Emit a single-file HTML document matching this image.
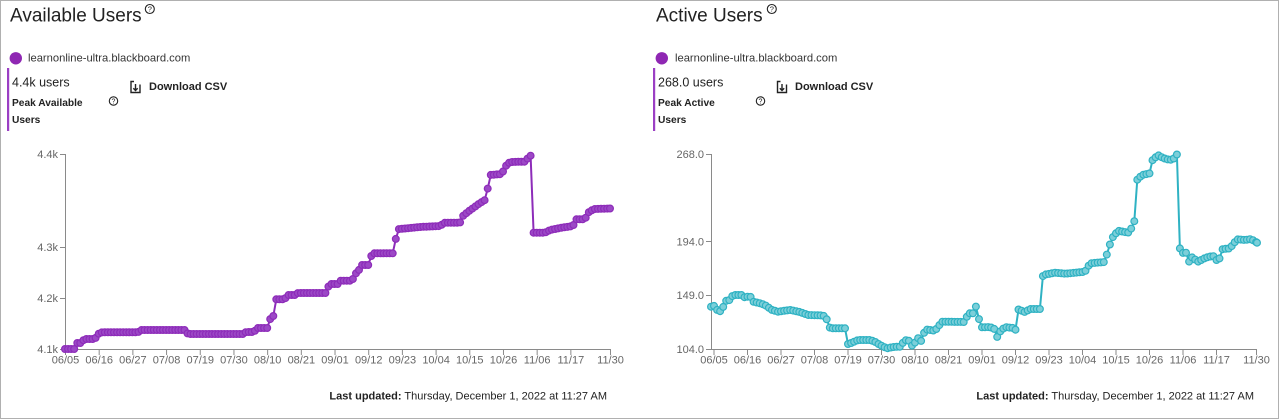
<!DOCTYPE html>
<html><head><meta charset="utf-8"><style>
html,body{margin:0;padding:0;background:#fff;}
svg{display:block;font-family:"Liberation Sans",Arial,sans-serif;}
</style></head><body>
<svg id="s" width="1280" height="420" viewBox="0 0 1280 420" xmlns="http://www.w3.org/2000/svg">
<rect x="0.5" y="0.5" width="1278" height="418" fill="#fff" stroke="#b0b0b0" stroke-width="1"/>

<!-- LEFT HEADER -->
<text x="10" y="21.5" font-size="19" fill="#222">Available Users</text>
<g transform="translate(149.8,9)"><circle r="4.5" fill="none" stroke="#222" stroke-width="1.1"/><text y="2.7" font-size="7.5" text-anchor="middle" fill="#222">?</text></g>
<circle cx="15.8" cy="58.3" r="6.2" fill="#8f27b3"/>
<text x="28" y="61.5" font-size="11.2" fill="#333">learnonline-ultra.blackboard.com</text>
<rect x="7" y="68" width="2.2" height="63" fill="#9b3fc4"/>
<text x="12" y="86.5" font-size="12.5" fill="#222">4.4k users</text>
<text x="12" y="106" font-size="10.2" font-weight="bold" fill="#222">Peak Available</text>
<text x="12" y="123" font-size="10.2" font-weight="bold" fill="#222">Users</text>
<g transform="translate(113.5,101)"><circle r="4.2" fill="none" stroke="#222" stroke-width="1.1"/><text y="2.5" font-size="7" text-anchor="middle" fill="#222">?</text></g>
<g stroke="#222" stroke-width="1.4" fill="none"><path d="M134,81.5 H131 V92.5 H140 V84.5"/><path d="M135.5,84 V90.5 M133.3,88.3 L135.5,90.5 L137.7,88.3"/></g>
<text x="149" y="90" font-size="11" font-weight="bold" fill="#222">Download CSV</text>

<!-- RIGHT HEADER -->
<text x="656" y="21.5" font-size="19" fill="#222">Active Users</text>
<g transform="translate(771.8,9)"><circle r="4.5" fill="none" stroke="#222" stroke-width="1.1"/><text y="2.7" font-size="7.5" text-anchor="middle" fill="#222">?</text></g>
<circle cx="661.8" cy="58.3" r="6.2" fill="#8f27b3"/>
<text x="675" y="61.5" font-size="11.2" fill="#333">learnonline-ultra.blackboard.com</text>
<rect x="653" y="68" width="2.2" height="63" fill="#9b3fc4"/>
<text x="658" y="86.5" font-size="12.5" fill="#222">268.0 users</text>
<text x="658" y="106" font-size="10.2" font-weight="bold" fill="#222">Peak Active</text>
<text x="658" y="123" font-size="10.2" font-weight="bold" fill="#222">Users</text>
<g transform="translate(760.5,101)"><circle r="4.2" fill="none" stroke="#222" stroke-width="1.1"/><text y="2.5" font-size="7" text-anchor="middle" fill="#222">?</text></g>
<g stroke="#222" stroke-width="1.4" fill="none"><path d="M780.5,81.5 H777.5 V92.5 H786.5 V84.5"/><path d="M782,84 V90.5 M779.8,88.3 L782,90.5 L784.2,88.3"/></g>
<text x="795" y="90" font-size="11" font-weight="bold" fill="#222">Download CSV</text>

<!-- LEFT AXES -->
<g stroke="#8a8a8a" stroke-width="1" fill="none">
<path d="M60,154.5 H65.5 V349.5 H60"/>
<path d="M60,247.5 H65.5 M60,298.5 H65.5"/>
<path d="M65.5,349.5 H610.5 V355"/>
</g>
<g font-size="11" fill="#666" text-anchor="end">
<text x="58" y="158">4.4k</text>
<text x="58" y="251">4.3k</text>
<text x="58" y="302">4.2k</text>
<text x="58" y="353">4.1k</text>
</g>
<g id="lx" font-size="11" fill="#666" text-anchor="middle"></g>

<!-- RIGHT AXES -->
<g stroke="#8a8a8a" stroke-width="1" fill="none">
<path d="M706,154.5 H711.5 V349.5 H706"/>
<path d="M706,241.5 H711.5 M706,295.5 H711.5"/>
<path d="M711.5,349.5 H1256.5 V355"/>
</g>
<g font-size="11" fill="#666" text-anchor="end">
<text x="704" y="158">268.0</text>
<text x="704" y="245.5">194.0</text>
<text x="704" y="299">149.0</text>
<text x="704" y="353">104.0</text>
</g>
<g id="rx" font-size="11" fill="#666" text-anchor="middle"></g>

<g id="lseries"></g>
<g id="rseries"></g>

<!-- FOOTERS -->
<text x="607" y="399.5" font-size="11" fill="#222" text-anchor="end"><tspan font-weight="bold">Last updated:</tspan> Thursday, December 1, 2022 at 11:27 AM</text>
<text x="1254" y="399.5" font-size="11" fill="#222" text-anchor="end"><tspan font-weight="bold">Last updated:</tspan> Thursday, December 1, 2022 at 11:27 AM</text>
</svg>
<script>
(function(){
var NS="http://www.w3.org/2000/svg";
function el(n,a,p){var e=document.createElementNS(NS,n);for(var k in a)e.setAttribute(k,a[k]);if(p)p.appendChild(e);return e;}
var dates=["06/05","06/16","06/27","07/08","07/19","07/30","08/10","08/21","09/01","09/12","09/23","10/04","10/15","10/26","11/06","11/17"];
function axis(id,x0,step,endx){
  var g=document.getElementById(id);
  var tg=el("g",{stroke:"#8a8a8a","stroke-width":"1"},g);
  for(var i=0;i<dates.length;i++){var x=x0+i*step;
    el("line",{x1:x,x2:x,y1:349.5,y2:355},tg);
    var t=el("text",{x:x,y:363.5},g);t.textContent=dates[i];}
  var t2=el("text",{x:endx,y:363.5},g);t2.textContent="11/30";
}
axis("lx",65.5,33.69,610.5);
axis("rx",714,33.5,1256.5);

var L=[[65,349],[75,349],[77,343],[82,343],[84,339],[95,339],[98,334],[102,332.3],[138,332.3],[141,330],[185,330],[188,334],[243,334],[246,332],[254,332],[257,328],[268,328],[271,316],[274,316],[276,299.3],[285,299.3],[287,295],[295,295],[298,293],[327,293],[329,284],[338,284],[340,280.7],[352,280.7],[356,273.3],[359,270],[361,265],[369,265],[372,253.3],[394,253.3],[397,229.3],[420,227],[440,226],[445,222.7],[460,222.7],[463,216],[468,211.7],[475,206.7],[480,203],[485,200],[487,192.7],[490,175],[502,174],[505,166.7],[510,162],[525,161.7],[528,158],[530.5,153.3],[533,232.7],[545,232.7],[550,230],[560,228],[573,226],[576,219.3],[585,219.3],[588,212.7],[594,209],[610,208.5]];
var R=[[711,306.7],[715,305.7],[718,311.7],[722,310.7],[725,301],[730,300],[733,295],[742,295],[745,297.7],[750,295.7],[753,301.7],[760,303.3],[765,305],[772,310],[778,311.7],[790,310],[800,312],[808,315],[823,315.5],[826,317.3],[830,328.3],[845,328.3],[848,344],[852,342.7],[858,340],[870,340],[875,341.7],[880,345],[887,348.3],[893,347],[900,346.7],[905,340],[910,341],[913,348],[917,337.3],[922,341.7],[925,329.3],[935,330.7],[942,321.7],[965,322],[968,313.3],[975,313.3],[976,306],[979,319.3],[982,327.3],[990,327],[995,329.3],[997,337.3],[1000,331.7],[1005,327],[1013,328],[1016,330],[1018,309.3],[1025,312],[1030,309],[1040,309],[1043,275],[1055,272.7],[1065,273.7],[1075,272.7],[1085,271.7],[1090,263.3],[1105,262],[1108,250],[1112,238.3],[1118,230.7],[1128,232.7],[1134,225],[1137,180],[1142,175],[1150,173.3],[1152,160.7],[1158,155],[1163,158],[1170,160],[1175,158],[1177.5,153.3],[1180.5,270.7],[1183,252.7],[1187,252.7],[1189,261.7],[1192,257.3],[1198,261.7],[1205,258],[1213,255.7],[1217,260.7],[1220,258],[1222,249.3],[1230,248.3],[1237,239.3],[1245,240],[1251,239],[1257,242.7]];
function interp(P,x){
  if(x<=P[0][0])return P[0][1];
  for(var i=1;i<P.length;i++){if(x<=P[i][0]){var a=P[i-1],b=P[i];var t=(x-a[0])/(b[0]-a[0]||1);return a[1]+t*(b[1]-a[1]);}}
  return P[P.length-1][1];
}
function series(id,P,step,stroke,fill){
  var g=document.getElementById(id);
  var x0=P[0][0],x1=P[P.length-1][0],pts=[];
  for(var x=x0;x<=x1+0.01;x+=step)pts.push([x,interp(P,x)]);
  if(pts[pts.length-1][0]<x1-0.5)pts.push([x1,P[P.length-1][1]]);
  el("polyline",{points:pts.map(function(p){return p[0].toFixed(1)+","+p[1].toFixed(1)}).join(" "),fill:"none",stroke:stroke,"stroke-width":"2","stroke-linejoin":"round"},g);
  var cg=el("g",{fill:fill,stroke:stroke,"stroke-width":"1.2"},g);
  pts.forEach(function(p){el("circle",{cx:p[0].toFixed(1),cy:p[1].toFixed(1),r:"3.4"},cg);});
}
series("lseries",L,3.063,"#8d2cb9","#9c48c6");
series("rseries",R,3.045,"#2fb2c3","#7ccfd9");
})();
</script>
</body></html>
